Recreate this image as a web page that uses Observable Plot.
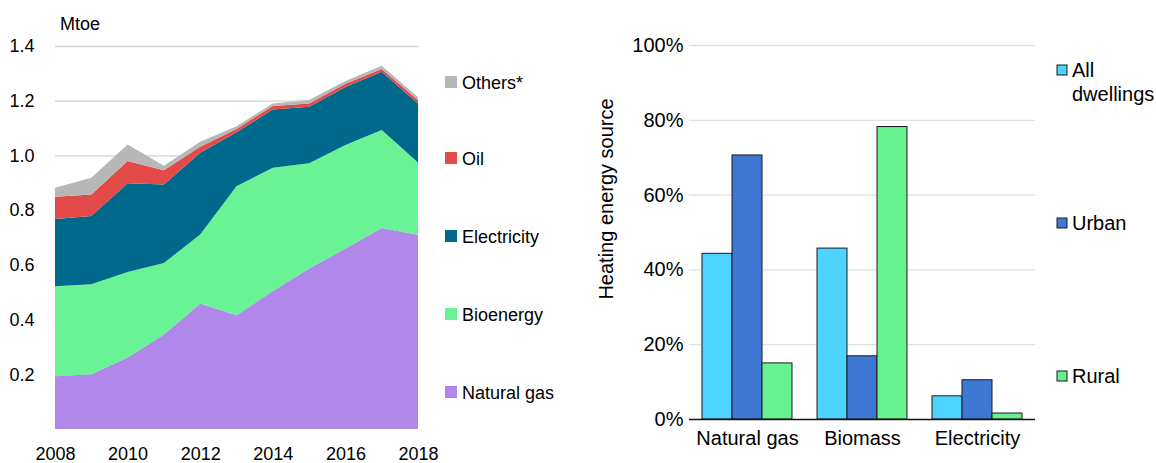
<!DOCTYPE html>
<html><head><meta charset="utf-8">
<script src="https://cdn.jsdelivr.net/npm/d3@7"></script>
<script src="https://cdn.jsdelivr.net/npm/@observablehq/plot@0.6"></script>
<style>
body{margin:0;background:#fff;}
#wrap{position:relative;width:1156px;height:463px;overflow:hidden;font-family:"Liberation Sans",Arial,sans-serif;}
.layer{position:absolute;top:0;}
#overlay{position:absolute;left:0;top:0;}
</style></head><body>
<div id="wrap">
  <div id="left" class="layer" style="left:0px"></div>
  <div id="rightGrid" class="layer" style="left:560px"></div>
  <div id="right" class="layer" style="left:560px"></div>
  <div id="rightAxis" class="layer" style="left:560px"></div>
  <svg id="overlay" width="1156" height="463"></svg>
</div>
<script>
// ---- Left chart data (Mtoe) ----
const years = [2008,2009,2010,2011,2012,2013,2014,2015,2016,2017,2018];
const seriesNames = ["Natural gas","Bioenergy","Electricity","Oil","Others*"];
const naturalGas  = [0.193,0.200,0.261,0.345,0.459,0.416,0.504,0.587,0.660,0.735,0.710];
const bioenergy   = [0.329,0.329,0.313,0.262,0.252,0.471,0.451,0.384,0.378,0.358,0.264];
const electricity = [0.246,0.250,0.324,0.287,0.299,0.198,0.213,0.207,0.212,0.213,0.216];
const oil         = [0.081,0.078,0.082,0.052,0.022,0.012,0.013,0.012,0.012,0.010,0.013];
const others      = [0.033,0.061,0.060,0.016,0.018,0.010,0.009,0.013,0.010,0.012,0.010];
const seriesColors = ["#b088ea","#69f394","#00688b","#e34a4a","#b7b7b7"];
const yTicksLeft = [0.2,0.4,0.6,0.8,1.0,1.2,1.4];
const xTicksLeft = [2008,2010,2012,2014,2016,2018];

// ---- Right chart data (% of dwellings) ----
const sources = ["Natural gas","Biomass","Electricity"];
const groups = ["All dwellings","Urban","Rural"];
const allDwellings = [44.3,45.7,6.2];
const urban        = [70.6,16.9,10.5];
const rural        = [15.0,78.2,1.6];
const groupColors = ["#4dd3ff","#3f77d4","#66f290"];
const yTicksRight = [0,20,40,60,80,100];

const seriesValues = [naturalGas,bioenergy,electricity,oil,others];
const areaData = [];
seriesNames.forEach((s,i)=>years.forEach((y,j)=>areaData.push({year:y, series:s, value:seriesValues[i][j]})));

const groupValues = [allDwellings,urban,rural];
const barData = [];
sources.forEach((src,i)=>groups.forEach((g,k)=>barData.push({source:src, group:g, value:groupValues[k][i]})));

const font = '"Liberation Sans", Arial, sans-serif';

const left = Plot.plot({
  width: 440, height: 463,
  marginLeft: 55, marginRight: 22, marginTop: 46, marginBottom: 34,
  style: {fontFamily: font, fontSize: "18px", color: "#000", background: "transparent", overflow: "visible"},
  x: {domain: [2008,2018], ticks: xTicksLeft, tickFormat: d => String(d), tickSize: 0, tickPadding: 18, label: null},
  y: {domain: [0,1.4], ticks: yTicksLeft, tickFormat: d3.format(".1f"), tickSize: 0, tickPadding: 21, label: null},
  color: {domain: seriesNames, range: seriesColors},
  marks: [
    Plot.ruleY(yTicksLeft, {stroke: "#d4d4d4", strokeWidth: 1.3}),
    Plot.areaY(areaData, {x: "year", y: "value", fill: "series", order: seriesNames})
  ]
});
document.getElementById("left").appendChild(left);

const rightDims = {width: 500, height: 463, marginLeft: 129, marginRight: 25, marginTop: 45, marginBottom: 44};
const yRight = {domain: [0,100], ticks: yTicksRight, tickFormat: d => d + "%", tickSize: 0, tickPadding: 18, label: null};
const rightStyle = {fontFamily: font, fontSize: "20px", color: "#000", background: "transparent", overflow: "visible"};

const rightGrid = Plot.plot({
  ...rightDims, style: rightStyle,
  y: {...yRight, axis: null},
  marks: [Plot.ruleY(yTicksRight.slice(1), {stroke: "#e0e0e0", strokeWidth: 1.3})]
});
document.getElementById("rightGrid").appendChild(rightGrid);

const right = Plot.plot({
  ...rightDims, style: rightStyle,
  fx: {domain: sources, paddingInner: 0.2, paddingOuter: 0.1, axis: "bottom", tickSize: 0, tickPadding: 11, label: null},
  x: {domain: groups, padding: 0, axis: null},
  y: yRight,
  color: {domain: groups, range: groupColors},
  marks: [
    Plot.barY(barData, {fx: "source", x: "group", y: "value", fill: "group", stroke: "#1a1a1a", strokeWidth: 1})
  ]
});
document.getElementById("right").appendChild(right);

const rightAxis = Plot.plot({
  ...rightDims, style: rightStyle,
  y: {...yRight, axis: null},
  marks: [Plot.ruleY([0], {stroke: "#111", strokeWidth: 1.5})]
});
document.getElementById("rightAxis").appendChild(rightAxis);

// ---- Overlay texts and legends ----
const ov = d3.select("#overlay").style("font-family", font);
ov.append("text").attr("x", 60).attr("y", 30).attr("font-size", 18).text("Mtoe");

const leftLegendOrder = seriesNames.slice().reverse();
const leftLegendY = [82, 158, 236, 314, 392];
leftLegendOrder.forEach((s,i)=>{
  const c = seriesColors[seriesNames.indexOf(s)];
  ov.append("rect").attr("x",445).attr("y",leftLegendY[i]-6).attr("width",12).attr("height",12).attr("fill",c);
  ov.append("text").attr("x",462).attr("y",leftLegendY[i]+6.5).attr("font-size",18).text(s);
});

ov.append("text").attr("font-size",20).attr("text-anchor","middle")
  .attr("transform","translate(613,199) rotate(-90)").text("Heating energy source");

const rightLegendY = [70, 223, 376];
groups.forEach((g,i)=>{
  ov.append("rect").attr("x",1057).attr("y",rightLegendY[i]-5).attr("width",10).attr("height",10)
    .attr("fill",groupColors[i]).attr("stroke","#1a1a1a").attr("stroke-width",1);
  const words = g === "All dwellings" ? ["All","dwellings"] : [g];
  words.forEach((w,k)=>{
    ov.append("text").attr("x",1072).attr("y",rightLegendY[i]+7+k*24).attr("font-size",20).text(w);
  });
});
</script>
</body></html>
